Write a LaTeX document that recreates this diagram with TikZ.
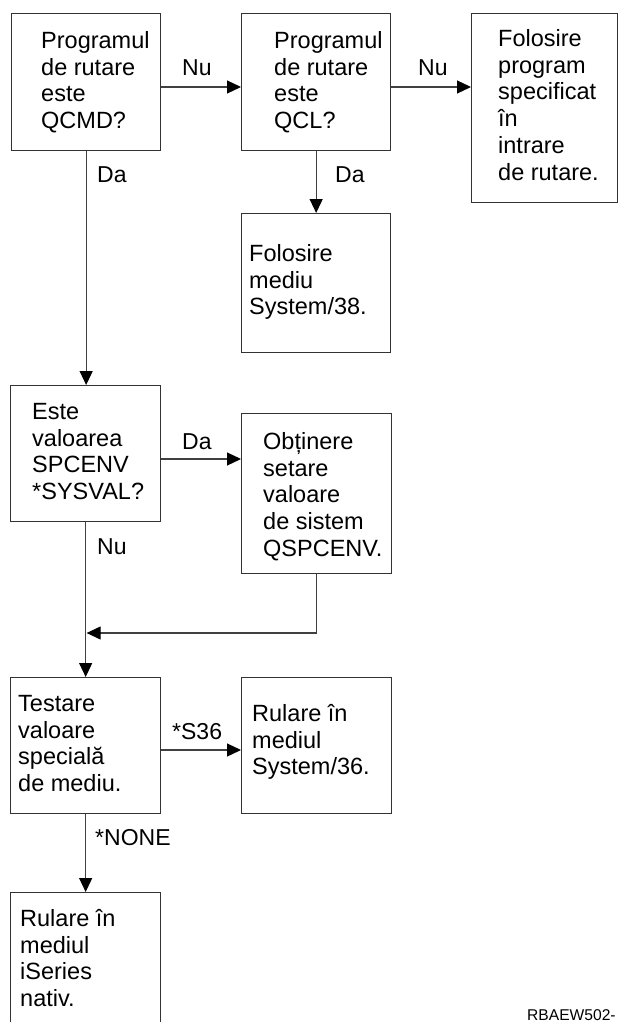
\documentclass[tikz,border=0pt]{standalone}
\usepackage{fontspec}
\setmainfont{Liberation Sans}
\usetikzlibrary{arrows.meta}
\newcommand\firstln{\rule{0pt}{18.8pt}}
\begin{document}
\begin{tikzpicture}[x=1pt,y=-1pt,
  box/.style={draw=black!80, line width=1.3pt, rectangle, inner sep=0pt, anchor=north west},
  txt/.style={anchor=north west, align=left, inner sep=0pt, font=\fontsize{23.5}{26.8}\selectfont},
  lbl/.style={anchor=west, inner sep=0pt, font=\fontsize{23}{26}\selectfont},
  conn/.style={draw=black!75, line width=1.2pt},
  arr/.style={conn, -{Triangle[length=14pt,width=13pt,color=black]}}]
\useasboundingbox (0,0) rectangle (618,1022);
\clip (0,0) rectangle (618,1022);

% boxes
\node[box, minimum width=149pt, minimum height=137pt] (b1) at (11,13) {};
\node[box, minimum width=149pt, minimum height=137pt] (b2) at (241,13) {};
\node[box, minimum width=146pt, minimum height=189pt] (b3) at (471,13) {};
\node[box, minimum width=149pt, minimum height=139pt] (b4) at (241,213) {};
\node[box, minimum width=150pt, minimum height=136pt] (b5) at (10,385) {};
\node[box, minimum width=150pt, minimum height=160pt] (b6) at (241,413) {};
\node[box, minimum width=150pt, minimum height=136pt] (b7) at (10,677) {};
\node[box, minimum width=150pt, minimum height=136pt] (b8) at (241,677) {};
\node[box, minimum width=150pt, minimum height=136pt] (b9) at (10,892) {};

% texts
\node[txt] (t1) at (41,29.3) {\firstln Programul\\de rutare\\este\\QCMD?};
\node[txt] (t2) at (274,29.3) {\firstln Programul\\de rutare\\este\\QCL?};
\node[txt] (t3) at (498,27.3) {\firstln Folosire\\program\\specificat\\în\\intrare\\de rutare.};
\node[txt] (t4) at (249,242.3) {\firstln Folosire\\mediu\\System/38.};
\node[txt] (t5) at (32,400.3) {\firstln Este\\valoarea\\SPCENV\\*SYSVAL?};
\node[txt] (t6) at (263,430.3) {\firstln Obținere\\setare\\valoare\\de sistem\\QSPCENV.};
\node[txt] (t7) at (18,692.3) {\firstln Testare\\valoare\\specială\\de mediu.};
\node[txt] (t8) at (252,702.3) {\firstln Rulare în\\mediul\\System/36.};
\node[txt] (t9) at (20,907.3) {\firstln Rulare în\\mediul\\iSeries\\nativ.};

% connectors
\draw[arr] (b1.east |- 0,87) -- (b2.west |- 0,87);
\draw[arr] (b2.east |- 0,87) -- (b3.west |- 0,87);
\draw[arr] (b2.south) -- (b4.north);
\draw[arr] (b1.south) -- (b1.south |- b5.north);
\draw[arr] (b5.east |- 0,459) -- (b6.west |- 0,459);
\draw[arr] (b5.south) -- (b5.south |- b7.north);
\coordinate (m) at (b5.south |- 0,633);
\draw[arr] (b6.south) -- (b6.south |- m) -- ([xshift=1pt]m);
\draw[arr] (b7.east |- 0,750) -- (b8.west |- 0,750);
\draw[arr] (b7.south) -- (b7.south |- b9.north);

% labels
\node[lbl] (l1) at (182,68) {Nu};
\node[lbl] (l2) at (418,68) {Nu};
\node[lbl] (l3) at (335,175) {Da};
\node[lbl] (l4) at (97,175) {Da};
\node[lbl] (l5) at (182,442) {Da};
\node[lbl] (l6) at (97,547) {Nu};
\node[lbl] (l7) at (172,732) {*S36};
\node[lbl] (l8) at (95,838) {*NONE};

\node[anchor=base west, inner sep=0pt, font=\fontsize{15.6}{18}\selectfont] (code) at (527,1020) {RBAEW502-};
\end{tikzpicture}
\end{document}
